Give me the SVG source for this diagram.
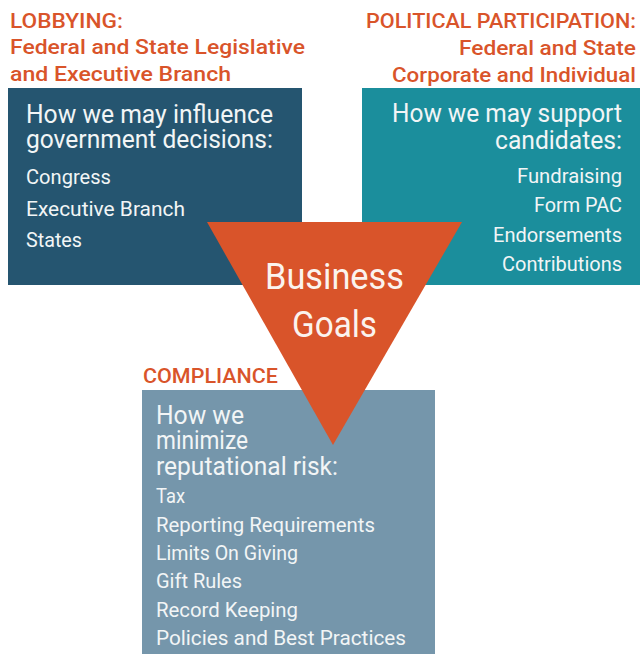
<svg xmlns="http://www.w3.org/2000/svg" width="640" height="654" viewBox="0 0 640 654">
<style>
text{font-family:Roboto,"Liberation Sans",sans-serif;}
.h{fill:#d9542a;font-size:20px;font-weight:500;}
.w{fill:#f2f5f6;}
.big{font-size:25px;}
.it{font-size:20px;}
.bg{font-size:36px;fill:#fbf3ee;}
</style>
<rect width="640" height="654" fill="#ffffff"/>
<g id="lobbying">
<text class="h" x="10" y="28" textLength="113" lengthAdjust="spacingAndGlyphs">LOBBYING:</text>
<text class="h" x="10" y="54" textLength="295" lengthAdjust="spacingAndGlyphs">Federal and State Legislative</text>
<text class="h" x="10" y="81" textLength="221" lengthAdjust="spacingAndGlyphs">and Executive Branch</text>
<rect x="8" y="88" width="294" height="197" fill="#255570"/>
<text class="w big" x="26" y="123" textLength="247" lengthAdjust="spacingAndGlyphs">How we may influence</text>
<text class="w big" x="26" y="148" textLength="247" lengthAdjust="spacingAndGlyphs">government decisions:</text>
<text class="w it" x="26" y="184" textLength="85" lengthAdjust="spacingAndGlyphs">Congress</text>
<text class="w it" x="26" y="216" textLength="159" lengthAdjust="spacingAndGlyphs">Executive Branch</text>
<text class="w it" x="26" y="247" textLength="56" lengthAdjust="spacingAndGlyphs">States</text>
</g>
<g id="political">
<text class="h" x="366" y="28" textLength="270" lengthAdjust="spacingAndGlyphs">POLITICAL PARTICIPATION:</text>
<text class="h" x="459" y="55" textLength="177" lengthAdjust="spacingAndGlyphs">Federal and State</text>
<text class="h" x="392" y="82" textLength="244" lengthAdjust="spacingAndGlyphs">Corporate and Individual</text>
<rect x="362" y="88" width="278" height="197" fill="#1b8e9c"/>
<text class="w big" x="392" y="122" textLength="230" lengthAdjust="spacingAndGlyphs">How we may support</text>
<text class="w big" x="495" y="149" textLength="127" lengthAdjust="spacingAndGlyphs">candidates:</text>
<text class="w it" x="517" y="183" textLength="105" lengthAdjust="spacingAndGlyphs">Fundraising</text>
<text class="w it" x="534" y="212" textLength="88" lengthAdjust="spacingAndGlyphs">Form PAC</text>
<text class="w it" x="493" y="242" textLength="129" lengthAdjust="spacingAndGlyphs">Endorsements</text>
<text class="w it" x="502" y="271" textLength="120" lengthAdjust="spacingAndGlyphs">Contributions</text>
</g>
<g id="compliance">
<text class="h" x="143" y="383" textLength="135" lengthAdjust="spacingAndGlyphs">COMPLIANCE</text>
<rect x="142" y="390" width="293" height="264" fill="#7596ab"/>
<text class="w big" x="156" y="424" textLength="88" lengthAdjust="spacingAndGlyphs">How we</text>
<text class="w big" x="156" y="449" textLength="92" lengthAdjust="spacingAndGlyphs">minimize</text>
<text class="w big" x="156" y="475" textLength="182" lengthAdjust="spacingAndGlyphs">reputational risk:</text>
<text class="w it" x="156" y="503" textLength="29" lengthAdjust="spacingAndGlyphs">Tax</text>
<text class="w it" x="156" y="532" textLength="219" lengthAdjust="spacingAndGlyphs">Reporting Requirements</text>
<text class="w it" x="156" y="560" textLength="142" lengthAdjust="spacingAndGlyphs">Limits On Giving</text>
<text class="w it" x="156" y="588" textLength="86" lengthAdjust="spacingAndGlyphs">Gift Rules</text>
<text class="w it" x="156" y="617" textLength="142" lengthAdjust="spacingAndGlyphs">Record Keeping</text>
<text class="w it" x="156" y="645" textLength="250" lengthAdjust="spacingAndGlyphs">Policies and Best Practices</text>
</g>
<g id="goals">
<polygon points="207,222 462,222 333,445" fill="#d9542a"/>
<text class="bg" x="265" y="289" textLength="139" lengthAdjust="spacingAndGlyphs">Business</text>
<text class="bg" x="292" y="337" textLength="85" lengthAdjust="spacingAndGlyphs">Goals</text>
</g>
<g id="connectors"></g>
</svg>
